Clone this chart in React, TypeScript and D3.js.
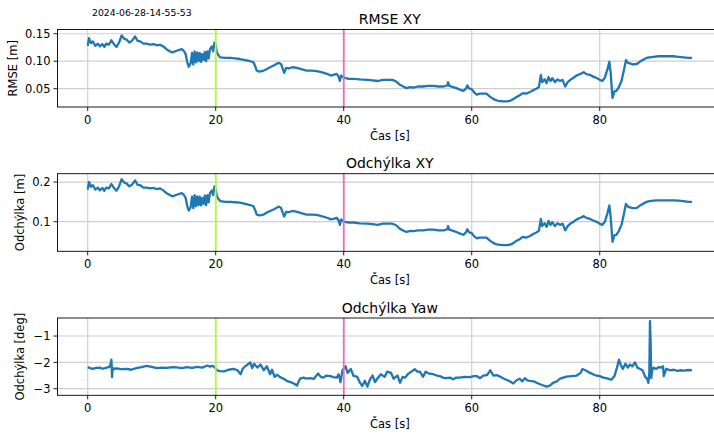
import * as d3 from "d3";

// time axis for the two XY panels [s]
const casXY = [
  0, 0.2, 0.5, 0.8, 1.2, 1.6, 1.9, 2.3, 2.6, 2.9,
  3.3, 3.7, 4.1, 4.5, 4.9, 5.3, 5.7, 6.1, 6.5, 6.9,
  7.4, 7.8, 8.2, 8.7, 9.2, 9.8, 10.3, 10.8, 11.3, 11.8,
  12.4, 13.2, 13.9, 14.7, 15.0, 15.3, 15.6, 15.8, 16.1, 16.3,
  16.5, 16.7, 16.9, 17.1, 17.3, 17.5, 17.7, 17.9, 18.1, 18.3,
  18.5, 18.7, 18.9, 19.1, 19.4, 19.6, 19.8, 20.0, 20.2, 20.5,
  20.7, 21.5, 22.3, 23.0, 23.8, 24.6, 25.4, 25.9, 26.2, 26.4,
  26.8, 27.5, 28.0, 28.5, 29.2, 29.8, 30.2, 30.5, 30.7, 31.0,
  31.4, 32.0, 32.7, 33.5, 34.2, 35.0, 35.8, 36.5, 37.4, 38.0,
  38.4, 38.9, 39.2, 39.4, 39.6, 40.0, 40.8, 41.6, 42.5, 43.7,
  44.5, 45.3, 46.1, 46.9, 47.6, 48.2, 48.8, 49.3, 49.8, 50.4,
  50.9, 51.6, 52.4, 53.2, 54.0, 54.8, 55.6, 56.2, 56.3, 56.5,
  57.1, 57.6, 58.2, 58.7, 59.1, 59.3, 59.6, 60.0, 60.4, 60.8,
  61.2, 61.5, 62.3, 62.8, 63.4, 64.1, 64.9, 65.5, 66.0, 66.5,
  67.0, 67.5, 68.0, 68.5, 69.1, 69.6, 70.1, 70.5, 70.8, 71.0,
  71.4, 71.7, 72.0, 72.3, 72.6, 73.0, 73.4, 73.8, 74.2, 74.6,
  75.0, 75.4, 75.9, 76.4, 77.0, 77.5, 78.0, 78.5, 79.0, 79.6,
  80.0, 80.4, 80.8, 81.2, 81.5, 81.7, 81.9, 82.0, 82.3, 82.6,
  83.0, 83.4, 83.8, 84.1, 84.4, 84.7, 85.2, 85.8, 86.5, 87.3,
  87.8, 88.4, 89.2, 90.0, 91.0, 91.5, 92.3, 93.1, 93.8, 94.4,
];

// RMSE XY [m]
const rmseXY = [
  0.128, 0.142, 0.133, 0.136, 0.128, 0.132, 0.127, 0.131, 0.126, 0.132,
  0.130, 0.138, 0.131, 0.126, 0.134, 0.147, 0.141, 0.139, 0.134, 0.137,
  0.145, 0.137, 0.136, 0.132, 0.132, 0.130, 0.131, 0.129, 0.130, 0.127,
  0.121, 0.116, 0.119, 0.122, 0.119, 0.113, 0.096, 0.090, 0.097, 0.115,
  0.094, 0.118, 0.098, 0.116, 0.100, 0.115, 0.099, 0.113, 0.102, 0.117,
  0.100, 0.118, 0.105, 0.122, 0.127, 0.118, 0.134, 0.128, 0.115, 0.110,
  0.107, 0.106, 0.106, 0.105, 0.104, 0.102, 0.100, 0.098, 0.090, 0.083,
  0.081, 0.083, 0.086, 0.089, 0.093, 0.097, 0.095, 0.085, 0.079, 0.088,
  0.087, 0.089, 0.088, 0.085, 0.083, 0.083, 0.082, 0.080, 0.077, 0.074,
  0.075, 0.077, 0.072, 0.064, 0.074, 0.070, 0.068, 0.068, 0.067, 0.066,
  0.065, 0.064, 0.066, 0.066, 0.066, 0.063, 0.057, 0.054, 0.051, 0.053,
  0.052, 0.054, 0.054, 0.055, 0.055, 0.054, 0.054, 0.056, 0.062, 0.055,
  0.053, 0.051, 0.048, 0.046, 0.050, 0.056, 0.050, 0.049, 0.043, 0.039,
  0.041, 0.041, 0.041, 0.036, 0.031, 0.028, 0.027, 0.027, 0.028, 0.031,
  0.035, 0.038, 0.042, 0.041, 0.044, 0.047, 0.050, 0.053, 0.075, 0.062,
  0.067, 0.060, 0.071, 0.064, 0.069, 0.062, 0.067, 0.064, 0.066, 0.054,
  0.062, 0.066, 0.070, 0.074, 0.077, 0.080, 0.076, 0.075, 0.072, 0.069,
  0.066, 0.064, 0.070, 0.085, 0.099, 0.080, 0.048, 0.033, 0.045, 0.046,
  0.053, 0.064, 0.085, 0.102, 0.097, 0.096, 0.094, 0.095, 0.101, 0.106,
  0.107, 0.108, 0.109, 0.109, 0.109, 0.109, 0.108, 0.107, 0.106, 0.106,
];

// Odchylka XY [m]
const odchXY = [
  0.181, 0.200, 0.188, 0.192, 0.181, 0.186, 0.179, 0.185, 0.178, 0.186,
  0.184, 0.195, 0.185, 0.178, 0.189, 0.207, 0.199, 0.196, 0.189, 0.193,
  0.204, 0.193, 0.192, 0.186, 0.186, 0.184, 0.185, 0.182, 0.184, 0.179,
  0.171, 0.164, 0.168, 0.172, 0.168, 0.160, 0.136, 0.128, 0.138, 0.163,
  0.134, 0.167, 0.139, 0.164, 0.142, 0.163, 0.141, 0.160, 0.145, 0.166,
  0.142, 0.167, 0.149, 0.172, 0.179, 0.167, 0.189, 0.181, 0.163, 0.156,
  0.152, 0.150, 0.150, 0.149, 0.148, 0.145, 0.142, 0.139, 0.128, 0.118,
  0.116, 0.118, 0.123, 0.127, 0.132, 0.138, 0.135, 0.121, 0.113, 0.125,
  0.124, 0.127, 0.125, 0.121, 0.118, 0.118, 0.117, 0.114, 0.110, 0.106,
  0.107, 0.110, 0.103, 0.092, 0.106, 0.100, 0.098, 0.098, 0.096, 0.095,
  0.094, 0.092, 0.095, 0.095, 0.095, 0.091, 0.082, 0.078, 0.074, 0.077,
  0.076, 0.078, 0.078, 0.080, 0.080, 0.078, 0.078, 0.081, 0.089, 0.080,
  0.077, 0.074, 0.070, 0.067, 0.073, 0.081, 0.073, 0.071, 0.063, 0.058,
  0.060, 0.060, 0.060, 0.053, 0.046, 0.042, 0.041, 0.041, 0.042, 0.046,
  0.052, 0.056, 0.062, 0.060, 0.064, 0.069, 0.073, 0.077, 0.107, 0.089,
  0.096, 0.087, 0.102, 0.092, 0.099, 0.089, 0.096, 0.092, 0.095, 0.078,
  0.089, 0.095, 0.100, 0.106, 0.110, 0.114, 0.109, 0.107, 0.103, 0.099,
  0.095, 0.092, 0.100, 0.121, 0.141, 0.114, 0.070, 0.049, 0.066, 0.067,
  0.077, 0.092, 0.121, 0.145, 0.138, 0.136, 0.134, 0.135, 0.143, 0.150,
  0.152, 0.153, 0.154, 0.154, 0.154, 0.154, 0.153, 0.152, 0.150, 0.150,
];

// time axis for the yaw panel [s]
const casYaw = [
  0, 0.4, 0.8, 1.3, 1.9, 2.3, 2.7, 3.1, 3.5, 3.7,
  3.8, 3.9, 4.1, 4.5, 5.2, 6.1, 6.8, 7.6, 8.4, 9.2,
  10.0, 10.8, 11.6, 12.4, 13.2, 13.9, 14.7, 15.5, 16.3, 17.1,
  17.9, 18.7, 19.1, 19.5, 19.8, 20.2, 20.7, 21.3, 22.0, 22.8,
  23.4, 23.9, 24.2, 24.6, 25.0, 25.4, 25.7, 26.0, 26.5, 27.0,
  27.5, 28.0, 28.5, 28.8, 29.2, 29.6, 30.0, 30.6, 31.1, 31.7,
  32.2, 32.7, 33.0, 33.2, 33.7, 34.2, 34.8, 35.3, 36.0, 36.4,
  36.8, 37.3, 37.9, 38.4, 38.9, 39.2, 39.5, 39.8, 40.3, 40.6,
  41.1, 41.5, 42.1, 42.5, 42.9, 43.3, 43.7, 44.1, 44.5, 44.9,
  45.3, 45.8, 46.4, 46.8, 47.4, 47.8, 48.4, 48.8, 49.2, 49.6,
  50.0, 50.4, 51.1, 51.5, 51.9, 52.4, 52.8, 53.2, 54.0, 54.6,
  55.0, 55.5, 56.0, 56.6, 57.1, 57.6, 58.2, 58.8, 59.7, 60.3,
  60.8, 61.3, 61.8, 62.4, 62.9, 63.4, 63.9, 64.5, 65.2, 65.8,
  66.5, 67.0, 67.5, 67.9, 68.3, 68.7, 69.1, 69.7, 70.4, 71.0,
  71.7, 72.2, 72.7, 73.3, 73.8, 74.3, 74.8, 75.6, 76.4, 77.0,
  77.3, 77.9, 78.5, 79.2, 80.0, 80.6, 81.3, 81.8, 82.3, 82.7,
  83.0, 83.3, 83.6, 84.0, 84.4, 84.7, 85.1, 85.5, 85.9, 86.3,
  86.7, 87.1, 87.4, 87.6, 87.75, 87.85, 87.95, 88.05, 88.2, 88.4,
  88.8, 89.2, 89.6, 89.9, 90.0, 90.4, 91.0, 91.6, 92.0, 92.6,
  93.2, 93.8, 94.4,
];

// Odchylka Yaw [deg]
const odchYaw = [
  -2.18, -2.22, -2.25, -2.21, -2.20, -2.24, -2.22, -2.19, -2.15, -1.90,
  -2.56, -2.20, -2.26, -2.23, -2.26, -2.25, -2.28, -2.22, -2.18, -2.13,
  -2.17, -2.22, -2.20, -2.21, -2.18, -2.19, -2.22, -2.18, -2.21, -2.17,
  -2.20, -2.12, -2.16, -2.13, -2.18, -2.30, -2.33, -2.34, -2.28, -2.25,
  -2.30, -2.45, -2.25, -2.15, -2.08, -2.00, -2.22, -2.05, -2.20, -2.08,
  -2.30, -2.15, -2.45, -2.28, -2.55, -2.47, -2.55, -2.62, -2.70, -2.75,
  -2.80, -2.88, -2.70, -2.62, -2.58, -2.62, -2.60, -2.63, -2.42, -2.55,
  -2.58, -2.50, -2.52, -2.56, -2.58, -2.45, -2.75, -2.30, -2.15, -2.40,
  -2.25, -2.50, -2.55, -2.75, -2.90, -2.70, -2.92, -2.65, -2.50, -2.75,
  -2.60, -2.45, -2.55, -2.35, -2.40, -2.62, -2.50, -2.78, -2.55, -2.58,
  -2.45, -2.38, -2.26, -2.35, -2.35, -2.55, -2.35, -2.42, -2.45, -2.50,
  -2.52, -2.58, -2.60, -2.58, -2.64, -2.58, -2.58, -2.55, -2.56, -2.52,
  -2.52, -2.60, -2.50, -2.48, -2.30, -2.50, -2.48, -2.55, -2.64, -2.70,
  -2.80, -2.68, -2.62, -2.72, -2.60, -2.68, -2.70, -2.72, -2.80, -2.86,
  -2.92, -2.88, -2.78, -2.72, -2.62, -2.58, -2.54, -2.52, -2.50, -2.40,
  -2.25, -2.32, -2.40, -2.48, -2.52, -2.58, -2.62, -2.66, -2.52, -2.20,
  -1.90, -2.10, -2.25, -2.05, -2.20, -2.08, -2.15, -2.00, -2.20, -2.25,
  -2.30, -2.55, -2.62, -2.78, -2.40, -0.44, -1.20, -2.60, -2.30, -2.20,
  -2.25, -2.18, -2.20, -2.15, -2.52, -2.25, -2.30, -2.28, -2.32, -2.30,
  -2.31, -2.29, -2.30,
];

const xTicks = [0, 20, 40, 60, 80];
const rmseTicks = [0.05, 0.1, 0.15];
const rmseTickLabels = ["0.05", "0.10", "0.15"];
const odchTicks = [0.1, 0.2];
const odchTickLabels = ["0.1", "0.2"];
const yawTicks = [-3, -2, -1];
const yawTickLabels = ["\u22123", "\u22122", "\u22121"];
const markers = [
  { t: 20, color: "#adff2f" },
  { t: 40, color: "#f06eb8" },
];

const W = 714;
const H = 435;
const FONT = "DejaVu Sans, sans-serif";

const x = d3.scaleLinear().domain([-4.72, 99.12]).range([57.5, 722.1]);

type Panel = {
  top: number;
  bottom: number;
  domain: [number, number];
  ticks: number[];
  tickLabels: string[];
  title: string;
  ylabel: string;
  ylabelX: number;
  t: number[];
  v: number[];
};

function Axes({ p }: { p: Panel }) {
  const y = d3.scaleLinear().domain(p.domain).range([p.bottom, p.top]);
  const line = d3
    .line<number>()
    .x((_, i) => x(p.t[i]))
    .y((d) => y(d));
  const [x0, x1] = x.range();
  const mid = (x0 + x1) / 2;
  return (
    <g>
      {/* grid */}
      {xTicks.map((t) => (
        <line key={"gx" + t} x1={x(t)} x2={x(t)} y1={p.top} y2={p.bottom} stroke="#cfcfcf" strokeWidth={1.2} />
      ))}
      {p.ticks.map((v) => (
        <line key={"gy" + v} x1={x0} x2={x1} y1={y(v)} y2={y(v)} stroke="#cfcfcf" strokeWidth={1.2} />
      ))}
      <path d={line(p.v) ?? ""} fill="none" stroke="#1f77b4" strokeWidth={2.3} strokeLinejoin="round" />
      {markers.map((m) => (
        <line key={"m" + m.t} x1={x(m.t)} x2={x(m.t)} y1={p.top} y2={p.bottom} stroke={m.color} strokeWidth={1.8} />
      ))}
      {/* spines */}
      <rect x={x0} y={p.top} width={x1 - x0} height={p.bottom - p.top} fill="none" stroke="#000" strokeWidth={0.9} />
      {/* x ticks */}
      {xTicks.map((t) => (
        <g key={"xt" + t}>
          <line x1={x(t)} x2={x(t)} y1={p.bottom} y2={p.bottom + 4} stroke="#000" strokeWidth={0.9} />
          <text x={x(t)} y={p.bottom + 17} textAnchor="middle" fontSize={11.5} fontFamily={FONT}>
            {t}
          </text>
        </g>
      ))}
      {/* y ticks */}
      {p.ticks.map((v, i) => (
        <g key={"yt" + v}>
          <line x1={x0 - 4} x2={x0} y1={y(v)} y2={y(v)} stroke="#000" strokeWidth={0.9} />
          <text x={x0 - 7} y={y(v)} dy="0.36em" textAnchor="end" fontSize={11.5} fontFamily={FONT}>
            {p.tickLabels[i]}
          </text>
        </g>
      ))}
      <text x={mid} y={p.top - 5.5} textAnchor="middle" fontSize={14} fontFamily={FONT}>
        {p.title}
      </text>
      <text x={mid} y={p.bottom + 32.5} textAnchor="middle" fontSize={11.5} fontFamily={FONT}>
        Čas [s]
      </text>
      <text
        transform={`translate(${p.ylabelX},${(p.top + p.bottom) / 2}) rotate(-90)`}
        textAnchor="middle"
        fontSize={11.5}
        fontFamily={FONT}
      >
        {p.ylabel}
      </text>
    </g>
  );
}

export default function App() {
  const panels: Panel[] = [
    {
      top: 29.5, bottom: 107, domain: [0.0167, 0.1577],
      ticks: rmseTicks, tickLabels: rmseTickLabels,
      title: "RMSE XY", ylabel: "RMSE [m]", ylabelX: 17,
      t: casXY, v: rmseXY,
    },
    {
      top: 173.7, bottom: 251.3, domain: [0.0254, 0.221],
      ticks: odchTicks, tickLabels: odchTickLabels,
      title: "Odchýlka XY", ylabel: "Odchýlka [m]", ylabelX: 24,
      t: casXY, v: odchXY,
    },
    {
      top: 318, bottom: 395.3, domain: [-3.25, -0.316],
      ticks: yawTicks, tickLabels: yawTickLabels,
      title: "Odchýlka Yaw", ylabel: "Odchýlka [deg]", ylabelX: 24,
      t: casYaw, v: odchYaw,
    },
  ];
  return (
    <svg
      width={W}
      height={H}
      style={{ position: "fixed", left: 0, top: 0, background: "#fff" }}
    >
      <rect width={W} height={H} fill="#fff" />
      <text x={92} y={15.5} fontSize={9.3} fontFamily={FONT}>
        2024-06-28-14-55-53
      </text>
      {panels.map((p) => (
        <Axes key={p.title} p={p} />
      ))}
    </svg>
  );
}
